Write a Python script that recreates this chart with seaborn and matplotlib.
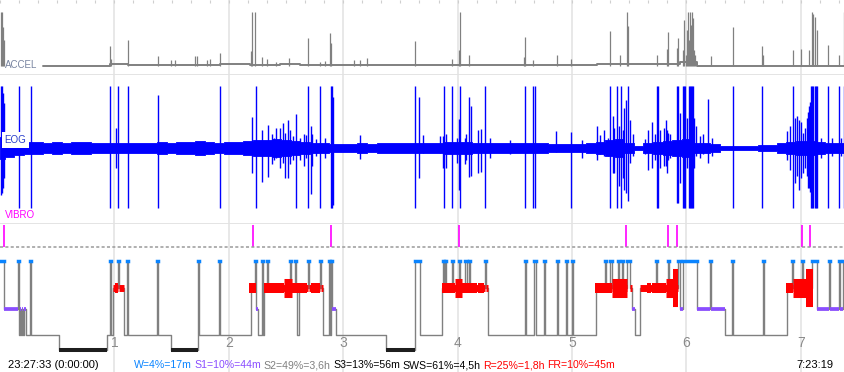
import numpy as np
import matplotlib
matplotlib.use("Agg")
import matplotlib.pyplot as plt
import seaborn as sns

# time axis: minutes since 23:27:33
T_END = 443.2
hour_ticks = [1, 2, 3, 4, 5, 6, 7]
start_label = "23:27:33 (0:00:00)"
end_label = "7:23:19"

# ACCEL: baseline steps + spikes (arbitrary units)
accel_base_t = [22.6, 57.7, 67.1, 115.4, 131.1, 146.9, 157.4, 313.1, 330.4, 356.7, 365.6, 443.2]
accel_base_v = [4.5, 6.5, 5.0, 6.5, 5.5, 6.0, 5.0, 6.5, 6.0, 8.0, 4.5, 4.5]
accel_spike_t = [0.5, 1.0, 1.6, 2.1,
                 57.7, 58.2, 67.1, 82.9, 89.7, 91.8, 102.3, 103.3, 108.6, 110.1, 115.4, 131.6,
                 132.2, 133.7, 137.4, 140.0, 144.8,
                 151.6, 161.5, 167.8, 170.5, 173.1, 173.6, 185.7, 188.8, 192.5, 217.7, 237.1,
                 240.7, 241.3, 246.0, 274.8, 275.4, 279.6, 292.1,
                 299.5, 319.9, 325.2, 328.9, 329.4, 344.6, 349.8, 350.4, 355.1, 355.6, 358.2,
                 358.8, 359.8, 360.3, 360.9, 361.4, 361.9, 362.4, 363.0, 363.5, 364.0, 364.5,
                 372.9, 384.5, 399.7, 400.2, 415.9, 420.1, 424.3, 425.9, 426.4, 427.5, 428.5,
                 434.3, 440.1, 442.7]
accel_spike_v = [58, 58, 43, 30,
                 24, 11, 30, 14, 10, 10, 14, 14, 10, 11, 17, 19,
                 58, 58, 13, 11, 8,
                 12, 32, 8, 9, 37, 27, 10, 10, 12, 29, 11,
                 20, 58, 15, 13, 33, 10, 15,
                 11, 39, 15, 58, 44, 15, 21, 38, 22, 32, 20,
                 50, 15, 40, 58, 30, 58, 45, 58, 52, 20, 15,
                 14, 43, 24, 15, 20, 21, 20, 58, 56, 53, 40,
                 25, 15, 58]

# EOG: background amplitude (read every 5 min) + individual deflections
eog_env_t = list(range(0, 450, 5))
eog_env_amp = [11, 9, 7, 6, 6, 5, 6, 5, 6, 6, 5, 5, 5, 5, 5, 5, 5, 6, 5, 6,
               6, 7, 6, 5, 6, 6, 7, 8, 8, 9, 8, 7, 6, 5, 5, 4, 4, 4, 5, 4,
               5, 5, 5, 5, 5, 5, 5, 6, 6, 6, 5, 5, 5, 5, 5, 5, 5, 5, 4, 4,
               4, 4, 5, 6, 8, 9, 5, 2, 5, 6, 7, 8, 9, 5, 5, 4, 2, 2, 2, 2,
               3, 3, 5, 6, 7, 7, 6, 5, 5, 5]
eog_spike_t = [0.5, 1.0, 1.6, 2.1, 10.0, 16.3, 57.7, 60.8, 61.9, 67.1, 82.9, 115.4, 132.2,
               134.3, 137.4, 140.6, 142.7, 143.7, 144.8,
               146.9, 148.4, 149.5, 151.1, 152.1, 153.7, 155.3, 157.4, 159.4, 160.5, 161.5,
               163.1, 163.6, 165.7, 167.8, 170.5, 173.6, 174.1, 174.7, 188.8, 217.7, 219.8,
               221.9, 230.8, 232.4, 232.9, 233.9, 237.1, 239.7, 240.7, 241.3, 243.9, 244.4,
               246.0, 247.0, 250.7, 252.3, 254.4, 257.0, 267.5, 275.4, 279.6, 280.6, 291.6,
               299.5, 305.3, 313.1, 314.7, 316.8, 318.9, 319.9, 321.5, 322.0, 323.6, 324.7,
               325.7, 326.8, 327.3, 328.3, 329.4, 330.4, 332.0, 338.3, 339.9, 342.0, 343.5,
               344.6, 345.1, 346.2, 348.3, 349.3, 349.8, 350.4, 351.4, 355.1, 355.6, 356.7,
               358.2, 358.8, 359.3, 360.3, 361.4, 361.9, 362.4, 363.0, 363.5, 364.0, 365.1,
               367.2, 368.7, 371.3, 373.4, 384.5, 399.7, 412.8, 414.4, 415.9, 417.0, 418.0,
               419.1, 420.1, 421.2, 422.2, 423.3, 423.8, 424.3, 424.8, 425.4, 425.9, 426.4,
               427.5, 428.0, 428.5, 430.6, 434.3, 436.4, 440.1, 441.1, 442.7]
eog_spike_up = [62, 62, 55, 45, 62, 62, 62, 20, 62, 62, 53, 62, 31,
                62, 18, 23, 14, 10, 20,
                20, 25, 15, 28, 18, 12, 34, 10, 14, 13, 62,
                22, 14, 9, 62, 10, 62, 62, 51, 13, 62, 51,
                13, 12, 12, 62, 14, 62, 10, 29, 62, 10, 14,
                51, 42, 18, 19, 62, 10, 8, 62, 62, 62, 17,
                16, 8, 22, 13, 18, 10, 62, 32, 20, 62, 22,
                62, 18, 40, 48, 62, 28, 14, 9, 18, 26, 14,
                62, 62, 18, 20, 28, 18, 15, 14, 62, 62, 35,
                62, 62, 62, 30, 62, 62, 62, 62, 62, 30, 22,
                12, 14, 49, 10, 62, 62, 17, 22, 62, 30, 32,
                28, 26, 15, 20, 30, 36, 42, 46, 62, 62, 62,
                62, 62, 62, 10, 62, 10, 62, 10, 62]
eog_spike_dn = [-47, -45, -40, -30, -60, -60, -60, -20, -60, -60, -60, -60, -25,
                -60, -34, -29, -16, -12, -10,
                -20, -15, -30, -30, -16, -12, -60, -12, -18, -10, -60,
                -46, -18, -8, -60, -10, -60, -60, -57, -11, -60, -30,
                -5, -5, -20, -60, -20, -60, -15, -42, -60, -16, -12,
                -29, -28, -25, -24, -60, -10, -6, -60, -60, -60, -4,
                -60, -10, -12, -6, -8, -8, -60, -25, -25, -60, -38,
                -60, -30, -42, -45, -53, -15, -8, -6, -22, -20, -12,
                -60, -60, -20, -18, -18, -25, -12, -10, -55, -55, -35,
                -60, -60, -60, -20, -60, -60, -60, -60, -60, -20, -8,
                -10, -6, -15, -8, -60, -60, -12, -22, -60, -35, -28,
                -42, -30, -25, -20, -28, -40, -40, -44, -60, -60, -60,
                -60, -60, -60, -10, -60, -8, -60, -8, -60]

# VIBRO events
vibro_t = [2.1, 132.7, 173.6, 240.7, 328.3, 350.4, 355.1, 420.6, 424.8]

# hypnogram: stage change times (min) and stages
hyp_t = [0, 2.1, 9.4, 10.0, 10.5, 11.0, 11.5, 12.1, 12.6, 13.6, 15.7, 16.3, 30.9, 56.1,
         57.7, 58.2, 59.3, 61.9, 62.4, 65.0, 66.6, 67.1, 82.3, 82.9, 89.7, 103.9, 104.4,
         114.9, 115.4, 131.6, 133.7, 134.3, 135.3, 137.4, 137.9, 138.5, 140.0, 140.6,
         152.1, 152.6, 154.7, 155.3, 155.8, 156.8, 161.5, 162.1, 167.8, 168.4, 169.4,
         172.6, 173.1, 173.6, 174.1, 176.2, 202.5, 217.7, 220.3, 231.8, 232.4, 232.9,
         233.4, 233.9, 237.1, 237.6, 240.7, 241.3, 243.9, 244.9, 246.0, 246.5, 254.4,
         254.9, 256.0, 275.4, 275.9, 280.1, 281.1, 285.3, 285.9, 292.1, 292.7, 296.9,
         297.4, 300.0, 300.5, 312.6, 317.3, 317.8, 319.9, 321.0, 324.1, 324.7, 326.2,
         326.8, 328.9, 330.4, 331.5, 333.1, 335.7, 344.1, 344.6, 350.4, 350.9, 355.6,
         356.7, 358.2, 365.6, 372.4, 372.9, 380.3, 383.9, 384.5, 400.2, 400.7, 412.8,
         415.4, 415.9, 420.6, 421.2, 425.9, 428.5, 434.8, 435.3, 440.1, 440.6, 442.2]
hyp_stage = ['W', 'S1', 'W', 'S2', 'S1', 'S2', 'S1', 'S2', 'S1', 'S2', 'W', 'S2', 'S3', 'S2',
             'W', 'S2', 'R', 'W', 'R', 'S2', 'W', 'S2', 'W', 'S2', 'S3', 'W', 'S2',
             'W', 'S2', 'R', 'W', 'S1', 'S2', 'W', 'S2', 'R', 'W', 'R',
             'W', 'R', 'W', 'R', 'S2', 'R', 'W', 'R', 'W', 'R', 'S2',
             'W', 'S2', 'W', 'S1', 'S2', 'S3', 'W', 'S2', 'R', 'W', 'R',
             'W', 'R', 'W', 'R', 'W', 'R', 'W', 'R', 'W', 'R', 'W',
             'R', 'S2', 'W', 'S2', 'W', 'S2', 'W', 'S2', 'W', 'S2', 'W',
             'S2', 'W', 'S2', 'R', 'W', 'R', 'W', 'R', 'W', 'R', 'W',
             'R', 'W', 'R', 'S1', 'S2', 'R', 'W', 'R', 'W', 'R', 'W',
             'S1', 'W', 'S1', 'W', 'S1', 'S2', 'W', 'S2', 'W', 'S2', 'R',
             'W', 'R', 'W', 'R', 'W', 'S1', 'W', 'S1', 'W', 'S1', 'W']

# REM eye-movement density bursts (level 2..4)
rem_t0 = [60.3, 130.6, 138.5, 149.0, 153.2, 163.1, 231.8, 238.6, 242.3, 250.7,
          312.1, 321.0, 339.3, 342.0, 344.6, 349.3, 353.0, 412.3, 415.9, 422.7]
rem_t1 = [61.9, 134.3, 149.0, 153.2, 161.0, 167.8, 238.6, 242.3, 250.2, 253.9,
          321.0, 328.9, 341.4, 344.6, 349.3, 353.0, 355.6, 415.9, 422.7, 426.4]
rem_lvl = [2, 2, 2, 3, 2, 2, 2, 3, 2, 2,
           2, 3, 2, 2, 2, 3, 4, 2, 3, 4]

stat_labels = ["W=4%=17m", "S1=10%=44m", "S2=49%=3,6h", "S3=13%=56m",
               "SWS=61%=4,5h", "R=25%=1,8h", "FR=10%=45m"]
stat_colors = ["#0a84ff", "#8a4dff", "#808080", "#000000", "#000000", "#ff0000", "#ff0000"]

# styling
W_PX, H_PX = 845, 372
stage_y = {'W': 13, 'R': 39.7, 'S1': 60.7, 'S2': 86.7, 'S3': 102.3}
stage_col = {'W': '#0a84ff', 'S1': '#8a4dff', 'S3': '#1e1e1e', 'R': '#ff0000'}
stage_lw = {'W': 2.5, 'S1': 2.7, 'S3': 2.9, 'R': 5.0}
rem_lw = {2: 7.2, 3: 13.7, 4: 27.4}
GRID = '#e4e4e4'

sns.set_style('white')
plt.rcParams['font.family'] = ['Liberation Sans', 'DejaVu Sans']

fig = plt.figure(figsize=(W_PX / 100, H_PX / 100), dpi=100)


def fx(px):
    return px / W_PX


def fy(py):
    return 1 - py / H_PX


def band(top, bottom):
    ax = fig.add_axes([0, fy(bottom), 1, (bottom - top) / H_PX])
    ax.set_xlim(0, T_END)
    for s in ax.spines.values():
        s.set_visible(False)
    ax.set_xticks([])
    ax.set_yticks([])
    for h in hour_ticks:
        ax.axvline(h * 60, color=GRID, lw=1.2, zorder=0)
    return ax


ax_acc = band(0, 74.5)
ax_eog = band(74.5, 224)
ax_vib = band(224, 248)
ax_hyp = band(248, H_PX)

for ax in (ax_acc, ax_eog):
    ax.spines['bottom'].set_visible(True)
    ax.spines['bottom'].set_color('#e2e2e2')
    ax.spines['bottom'].set_linewidth(1.3)

# 10-minute marks along the top edge
ax_acc.set_xticks(np.arange(0, T_END, 10))
ax_acc.tick_params(axis='x', top=True, bottom=False, labeltop=False, labelbottom=False,
                   direction='in', length=2.4, width=0.8, color='#cfcfcf')

# ACCEL
ax_acc.set_ylim(-4.5, 70)
sns.lineplot(x=accel_base_t, y=accel_base_v, drawstyle='steps-post', estimator=None,
             sort=False, color='#808080', lw=1.4, ax=ax_acc)
ax_acc.vlines(accel_spike_t, 4.5, accel_spike_v, color='#808080', lw=0.9)

# EOG
ax_eog.set_ylim(-76, 73.5)
env = np.array(eog_env_amp)
ax_eog.fill_between(eog_env_t, -env, env, step='mid', color='#0000ff', lw=0.6)
ax_eog.vlines(eog_spike_t, eog_spike_dn, eog_spike_up, color='#0000ff', lw=1.0)

# VIBRO
ax_vib.set_ylim(24, 0)
ax_vib.vlines(vibro_t, 0.5, 23.3, color='#ff00ff', lw=1.2)
ax_vib.axhline(23.4, color='#9a9a9a', lw=1.1, ls=(0, (2, 1.5)))

# hypnogram
ax_hyp.set_ylim(124, 0)
edges = hyp_t + [T_END]
levels = [stage_y[s] for s in hyp_stage] + [stage_y[hyp_stage[-1]]]
sns.lineplot(x=edges, y=levels, drawstyle='steps-post', estimator=None, sort=False,
             color='#808080', lw=1.0, ax=ax_hyp, zorder=2)
for i, s in enumerate(hyp_stage):
    if s == 'R':
        ax_hyp.hlines(stage_y[s], edges[i], edges[i + 1], color=stage_col[s],
                      lw=stage_lw[s], zorder=3)
for t0, t1, lv in zip(rem_t0, rem_t1, rem_lvl):
    ax_hyp.hlines(stage_y['R'], t0, t1, color=stage_col['R'], lw=rem_lw[lv], zorder=3)
for i, s in enumerate(hyp_stage):
    if s in ('W', 'S1', 'S3'):
        ax_hyp.hlines(stage_y[s], edges[i], edges[i + 1], color=stage_col[s],
                      lw=stage_lw[s], zorder=4,
                      capstyle='projecting' if s == 'W' else 'butt')
for h in hour_ticks:
    ax_hyp.text(h * 60, 95, str(h), ha='center', va='center', fontsize=10, color='#8a8a8a')
ax_hyp.set_xlabel('')
ax_hyp.set_ylabel('')
ax_acc.set_xlabel('')
ax_acc.set_ylabel('')

# channel labels
fig.text(fx(5), fy(64.5), 'ACCEL', color='#7884a0', fontsize=7, va='center')
fig.text(fx(4.5), fy(140), 'EOG', color='#2a3fcc', fontsize=7, va='center',
         bbox=dict(fc='white', ec='none', pad=2))
fig.text(fx(5), fy(214.5), 'VIBRO', color='#ff00ff', fontsize=7, va='center')

# bottom line
fig.text(fx(8), fy(365), start_label, fontsize=8, va='center', color='black')
fig.text(fx(833), fy(365), end_label, fontsize=8, va='center', ha='right', color='black')
renderer = fig.canvas.get_renderer()
x = fx(134)
for lab, col in zip(stat_labels, stat_colors):
    t = fig.text(x, fy(365), lab, fontsize=7.6, va='center', color=col)
    bb = t.get_window_extent(renderer)
    x = (bb.x1 + 2.5) / fig.bbox.width

fig.savefig('out.png', dpi=100, facecolor='white')
